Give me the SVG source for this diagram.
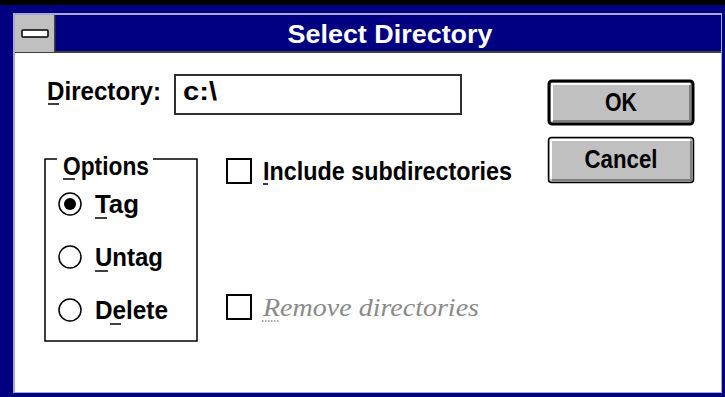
<svg xmlns="http://www.w3.org/2000/svg" width="725" height="397" viewBox="0 0 725 397">
<style>
.t{font-family:"Liberation Sans",Arial,sans-serif;font-weight:bold;font-size:26px;fill:#000}
.u{stroke:#000;stroke-width:1.5}
.btn{fill:#c0c0c0}
.hl{stroke:#fff;stroke-width:2;fill:none}
.sh{stroke:#808080;stroke-width:2;fill:none}
.ck{fill:#fff;stroke:#000;stroke-width:2}
.rb{fill:#fff;stroke:#000;stroke-width:1.5}
</style>
<rect x="0" y="0" width="725" height="397" fill="#000080"/>
<rect x="0" y="0" width="725" height="5" fill="#000"/>
<rect x="13" y="13" width="709" height="380" fill="#a8a8d8"/>
<rect x="15" y="15" width="706" height="377" fill="#fff"/>
<g id="titlebar">
<rect x="15" y="15" width="706" height="37" fill="#000080"/>
<rect x="15" y="51" width="706" height="2" fill="#404040"/>
<rect x="15" y="15" width="39" height="37" fill="#c0c0c0"/>
<rect x="54" y="15" width="1.5" height="37" fill="#404040"/>
<rect x="22" y="30" width="26" height="7" rx="1" fill="#fff" stroke="#000" stroke-width="1.5"/>
<text x="390" y="43" text-anchor="middle" class="t" style="fill:#fff" textLength="205" lengthAdjust="spacingAndGlyphs">Select Directory</text>
</g>
<g id="directory">
<text x="47" y="100" class="t" textLength="114" lengthAdjust="spacingAndGlyphs">Directory:</text>
<line x1="48" y1="104" x2="59" y2="104" class="u"/>
<rect x="175" y="75" width="286" height="39" fill="#fff" stroke="#303030" stroke-width="2"/>
<text x="183" y="100" class="t" textLength="34" lengthAdjust="spacingAndGlyphs">c:\</text>
</g>
<g id="ok">
<rect x="549" y="81" width="144" height="43" rx="3" class="btn" stroke="#000" stroke-width="3"/>
<polyline points="552,121 552,84 690,84" class="hl"/>
<polyline points="553,121 690,121 690,85" class="sh"/>
<text x="621" y="111" text-anchor="middle" class="t" textLength="32" lengthAdjust="spacingAndGlyphs">OK</text>
</g>
<g id="cancel">
<rect x="548.5" y="137.5" width="145" height="45" rx="3" class="btn" stroke="#000" stroke-width="1.5"/>
<polyline points="551,179 551,140 690,140" class="hl"/>
<polyline points="552,180 691,180 691,141" class="sh"/>
<text x="621" y="168" text-anchor="middle" class="t" textLength="73" lengthAdjust="spacingAndGlyphs">Cancel</text>
</g>
<g id="options">
<polyline points="57,159 45,159 45,341 197,341 197,159 153,159" fill="none" stroke="#000" stroke-width="1.5"/>
<text x="63" y="175" class="t" textLength="86" lengthAdjust="spacingAndGlyphs">Options</text>
<line x1="63" y1="179" x2="75" y2="179" class="u"/>
</g>
<g id="tag">
<circle cx="70" cy="204" r="11" class="rb"/>
<circle cx="70" cy="204" r="6" fill="#000"/>
<text x="95" y="213" class="t" textLength="44" lengthAdjust="spacingAndGlyphs">Tag</text>
<line x1="95" y1="218" x2="107" y2="218" class="u"/>
</g>
<g id="untag">
<circle cx="70" cy="257" r="11" class="rb"/>
<text x="95" y="266" class="t" textLength="68" lengthAdjust="spacingAndGlyphs">Untag</text>
<line x1="95" y1="271" x2="108" y2="271" class="u"/>
</g>
<g id="delete">
<circle cx="70" cy="310" r="11" class="rb"/>
<text x="95" y="319" class="t" textLength="73" lengthAdjust="spacingAndGlyphs">Delete</text>
<line x1="110" y1="324" x2="121" y2="324" class="u"/>
</g>
<g id="include">
<rect x="227" y="159" width="24" height="24" class="ck"/>
<text x="263" y="180" class="t" textLength="249" lengthAdjust="spacingAndGlyphs">Include subdirectories</text>
<line x1="263" y1="184" x2="268" y2="184" class="u"/>
</g>
<g id="remove">
<rect x="227" y="295" width="24" height="24" class="ck"/>
<text x="263" y="316" class="t" style="fill:#8a8a8a;font-style:italic;font-weight:normal;font-family:'Liberation Serif',serif" textLength="216" lengthAdjust="spacingAndGlyphs">Remove directories</text>
<line x1="262" y1="321" x2="280" y2="321" stroke="#8a8a8a" stroke-width="1.5" stroke-dasharray="1.5 1.5"/>
</g>
</svg>
